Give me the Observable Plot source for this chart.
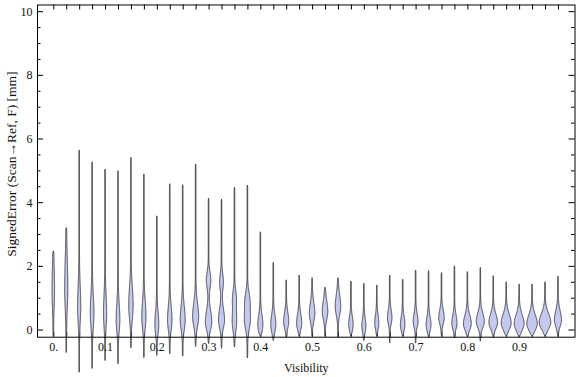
<!DOCTYPE html>
<html>
<head>
<meta charset="utf-8">
<script src="https://cdn.jsdelivr.net/npm/d3@7"></script>
<script src="https://cdn.jsdelivr.net/npm/@observablehq/plot@0.6"></script>
<style>
  html, body { margin: 0; padding: 0; background: #fff; }
  #chart svg { display: block; }
</style>
</head>
<body>
<div id="chart"></div>
<script>
// ---- Data ----
const visibility = [0, 0.025, 0.05, 0.075, 0.1, 0.125, 0.15, 0.175, 0.2, 0.225,
  0.25, 0.275, 0.3, 0.325, 0.35, 0.375, 0.4, 0.425, 0.45, 0.475,
  0.5, 0.525, 0.55, 0.575, 0.6, 0.625, 0.65, 0.675, 0.7, 0.725,
  0.75, 0.775, 0.8, 0.825, 0.85, 0.875, 0.9, 0.925, 0.95, 0.975];
const maxErr = [2.47, 3.2, 5.64, 5.27, 5.04, 4.99, 5.41, 4.89, 3.57, 4.58,
  4.55, 5.2, 4.13, 4.10, 4.47, 4.54, 3.07, 2.11, 1.56, 1.71,
  1.63, 1.33, 1.63, 1.52, 1.45, 1.40, 1.71, 1.58, 1.87, 1.85,
  1.79, 2.0, 1.82, 1.95, 1.69, 1.5, 1.43, 1.43, 1.5, 1.68];
const minErr = [-0.2, -0.71, -1.33, -1.21, -0.96, -1.06, -0.56, -0.87, -0.80, -0.75,
  -0.82, -0.52, -0.43, -0.58, -0.54, -0.88, -0.2, -0.33, -0.23, -0.2,
  -0.2, -0.2, -0.23, -0.2, -0.33, -0.2, -0.41, -0.2, -0.41, -0.22,
  -0.2, -0.25, -0.22, -0.35, -0.22, -0.2, -0.22, -0.2, -0.2, -0.2];
const modeErr = [1.24, 1.3, 0.7, 0.5, 0.5, 0.3, 0.75, 0.4, 0.15, 0.3,
  0.3, 0.4, 0.25, 0.3, 0.25, 0.3, 0.15, 0.15, 0.25, 0.2,
  0.5, 0.56, 0.72, 0.15, 0.1, 0.2, 0.36, 0.15, 0.25, 0.15,
  0.36, 0.2, 0.18, 0.25, 0.22, 0.2, 0.18, 0.18, 0.22, 0.3];
// peak density, as a fraction of the half slot width
const modeDensity = [0.15, 0.2, 0.2, 0.24, 0.2, 0.24, 0.3, 0.28, 0.26, 0.3,
  0.34, 0.42, 0.45, 0.42, 0.3, 0.42, 0.35, 0.35, 0.35, 0.35,
  0.38, 0.38, 0.38, 0.3, 0.27, 0.27, 0.3, 0.3, 0.33, 0.33,
  0.38, 0.35, 0.56, 0.58, 0.62, 0.72, 0.72, 0.76, 0.85, 0.5];
const spreadErr = [0.5, 0.6, 0.45, 0.4, 0.4, 0.35, 0.4, 0.35, 0.28, 0.3,
  0.3, 0.3, 0.25, 0.25, 0.28, 0.28, 0.22, 0.22, 0.2, 0.2,
  0.24, 0.24, 0.25, 0.18, 0.18, 0.18, 0.18, 0.18, 0.18, 0.18,
  0.18, 0.18, 0.19, 0.19, 0.19, 0.2, 0.2, 0.2, 0.2, 0.2];
// secondary bulge (0 density = none)
const mode2Err = [0, 0, 0, 0, 0, 0, 0, 0, 0, 0,
  0, 0, 1.55, 1.5, 1.0, 0.95, 0, 0, 0, 0,
  0, 0, 0, 0, 0, 0, 0, 0, 0, 0,
  0, 0, 0, 0, 0, 0, 0, 0, 0, 0];
const mode2Density = [0, 0, 0, 0, 0, 0, 0, 0, 0, 0,
  0, 0, 0.3, 0.25, 0.22, 0.25, 0, 0, 0, 0,
  0, 0, 0, 0, 0, 0, 0, 0, 0, 0,
  0, 0, 0, 0, 0, 0, 0, 0, 0, 0];
const xTicks = [0, 0.1, 0.2, 0.3, 0.4, 0.5, 0.6, 0.7, 0.8, 0.9];
const xTickLabels = ["0.", "0.1", "0.2", "0.3", "0.4", "0.5", "0.6", "0.7", "0.8", "0.9"];
const yMajor = [0, 2, 4, 6, 8, 10];
const yMinor = [0.5, 1, 1.5, 2.5, 3, 3.5, 4.5, 5, 5.5, 6.5, 7, 7.5, 8.5, 9, 9.5];
const xTitle = "Visibility";
const yTitle = "SignedError (Scan\u2192Ref, F) [mm]";

// ---- Layout ----
const W = 576, H = 377;
const mL = 37, mR = 1.5, mT = 4.5, mB = 40.3;
const xDom = [-0.0315, 1.007];
const yDom = [-0.226, 10.21];
const kx = (xDom[1] - xDom[0]) / (W - mL - mR);
const ky = (yDom[1] - yDom[0]) / (H - mT - mB);
const halfSlot = 0.0125;
const tailHW = 0.3 * kx;

// violin outlines from the read statistics
const rows = [];
visibility.forEach((v, i) => {
  const lo = minErr[i], hi = maxErr[i], m = modeErr[i], s = spreadErr[i];
  const n = Math.ceil((hi - lo) / 0.02);
  for (let k = 0; k <= n; k++) {
    const y = lo + (hi - lo) * k / n;
    const sd = y < m ? s : s * 1.4;
    let g = modeDensity[i] * Math.exp(-0.5 * ((y - m) / sd) ** 2);
    if (mode2Density[i] > 0) g += mode2Density[i] * Math.exp(-0.5 * ((y - mode2Err[i]) / 0.25) ** 2);
    let hw = tailHW + g * halfSlot;
    const taper = Math.min(1, (y - lo) / 0.06, (hi - y) / 0.06);
    hw *= Math.max(0, taper);
    rows.push({i, y, x1: v - hw, x2: v + hw});
  }
});

const chart = Plot.plot({
  width: W, height: H,
  marginLeft: mL, marginRight: mR, marginTop: mT, marginBottom: mB,
  x: {domain: xDom},
  y: {domain: yDom},
  style: {fontFamily: "'Liberation Serif', 'DejaVu Serif', serif", fontSize: "12px", background: "#fff", color: "#000"},
  marks: [
    Plot.ruleX(visibility, {x: d => d, y1: yDom[0], y2: yDom[0] + 5 * ky, stroke: "#000"}),
    Plot.areaX(rows, {y: "y", x1: "x1", x2: "x2", z: "i", curve: "linear",
      fill: "#c5c9ef", stroke: "#333", strokeWidth: 1, strokeOpacity: 0.85}),
    Plot.frame({stroke: "#000", strokeWidth: 1}),
    Plot.ruleX(visibility, {x: d => d, y1: yDom[1], y2: yDom[1] - 5 * ky, stroke: "#000"}),
    Plot.ruleY(yMajor, {y: d => d, x1: xDom[0], x2: xDom[0] + 6 * kx, stroke: "#000"}),
    Plot.ruleY(yMinor, {y: d => d, x1: xDom[0], x2: xDom[0] + 3.5 * kx, stroke: "#000"}),
    Plot.ruleY(yMajor, {y: d => d, x1: xDom[1] - 6 * kx, x2: xDom[1], stroke: "#000"}),
    Plot.ruleY(yMinor, {y: d => d, x1: xDom[1] - 3.5 * kx, x2: xDom[1], stroke: "#000"}),
    Plot.axisX({ticks: xTicks, tickSize: 0, tickPadding: 5, label: null,
      tickFormat: d => xTickLabels[xTicks.indexOf(d)], fill: "#111"}),
    Plot.axisY({ticks: yMajor, tickSize: 0, tickPadding: 5, label: null,
      tickFormat: d => String(d), fill: "#111"}),
    Plot.text([xTitle], {text: d => d, frameAnchor: "bottom", dy: 31, lineAnchor: "middle", fontSize: 12, fill: "#111"}),
    Plot.text([yTitle], {text: d => d, frameAnchor: "left", textAnchor: "middle", dx: -26, dy: -7, rotate: -90, lineAnchor: "middle", fontSize: 13.5, fill: "#111"})
  ]
});
document.getElementById("chart").appendChild(chart);
</script>
</body>
</html>
